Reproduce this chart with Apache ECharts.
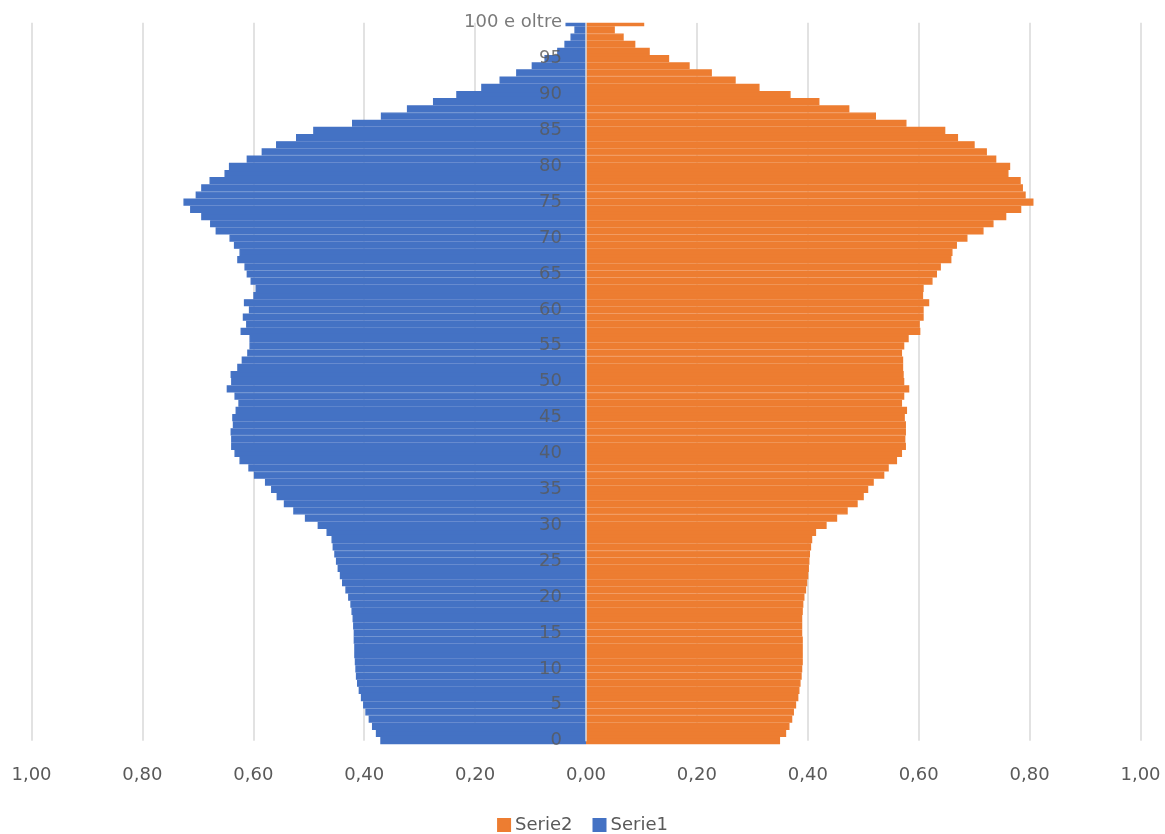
<!DOCTYPE html>
<html>
<head>
<meta charset="utf-8">
<script src="https://cdn.jsdelivr.net/npm/echarts@6/dist/echarts.min.js"></script>
<style>
html,body{margin:0;padding:0;background:#fff;}
#chart{width:1165px;height:834px;}
</style>
</head>
<body>
<div id="chart"></div>
<script>
// Age categories (0 ... 100 e oltre)
const ages = ["0","1","2","3","4","5","6","7","8","9",
"10","11","12","13","14","15","16","17","18","19",
"20","21","22","23","24","25","26","27","28","29",
"30","31","32","33","34","35","36","37","38","39",
"40","41","42","43","44","45","46","47","48","49",
"50","51","52","53","54","55","56","57","58","59",
"60","61","62","63","64","65","66","67","68","69",
"70","71","72","73","74","75","76","77","78","79",
"80","81","82","83","84","85","86","87","88","89",
"90","91","92","93","94","95","96","97","98","99",
"100 e oltre"];

// Tick labels shown on the age axis
const ageTicks = ["0","5","10","15","20","25","30","35","40","45","50",
"55","60","65","70","75","80","85","90","95","100 e oltre"];

// Serie1 (blue, drawn on the left) – magnitudes by age
const serie1 = [0.371,0.379,0.386,0.392,0.398,0.402,0.406,0.410,0.413,0.415,
0.416,0.417,0.418,0.418,0.419,0.419,0.420,0.421,0.423,0.425,
0.429,0.434,0.440,0.444,0.448,0.451,0.454,0.457,0.459,0.468,
0.484,0.507,0.528,0.545,0.558,0.568,0.579,0.599,0.609,0.625,
0.634,0.640,0.640,0.641,0.637,0.638,0.632,0.627,0.634,0.648,
0.640,0.641,0.629,0.621,0.611,0.607,0.607,0.623,0.613,0.619,
0.608,0.617,0.600,0.596,0.605,0.612,0.616,0.629,0.625,0.635,
0.643,0.668,0.678,0.694,0.714,0.726,0.704,0.694,0.679,0.652,
0.644,0.612,0.585,0.559,0.523,0.492,0.422,0.370,0.323,0.276,
0.234,0.189,0.156,0.126,0.098,0.075,0.052,0.039,0.028,0.021,
0.037];

// Serie2 (orange, drawn on the right)
const serie2 = [0.350,0.361,0.367,0.372,0.375,0.379,0.383,0.385,0.387,0.389,
0.390,0.391,0.391,0.391,0.391,0.390,0.390,0.390,0.391,0.392,
0.394,0.397,0.399,0.401,0.402,0.403,0.404,0.406,0.408,0.415,
0.434,0.453,0.472,0.490,0.501,0.509,0.519,0.538,0.546,0.561,
0.570,0.577,0.576,0.577,0.577,0.575,0.579,0.570,0.574,0.583,
0.574,0.573,0.572,0.572,0.570,0.574,0.582,0.603,0.602,0.609,
0.609,0.619,0.608,0.609,0.625,0.633,0.640,0.659,0.661,0.669,
0.688,0.717,0.735,0.758,0.785,0.807,0.793,0.788,0.784,0.762,
0.765,0.740,0.723,0.701,0.671,0.648,0.578,0.523,0.475,0.421,
0.369,0.313,0.270,0.227,0.187,0.150,0.115,0.089,0.068,0.052,
0.105];

const colors = {Serie1:"#4472C4", Serie2:"#ED7D31"};
const xMin = -1, xMax = 1, xStep = 0.2;

const FONT = "DejaVu Sans";
const TXT = "#595959";
const gridTop = 22.7;

const chart = echarts.init(document.getElementById('chart'), null, {renderer:'canvas'});
chart.setOption({
  animation:false,
  backgroundColor:'#ffffff',
  textStyle:{fontFamily:FONT},
  grid:{left:31.5, right:24.5, top:gridTop, bottom:93.3, containLabel:false, outerBoundsMode:'none'},
  legend:{
    data:["Serie2","Serie1"],
    bottom:-5, left:'center',
    icon:'rect', itemWidth:12, itemHeight:12, itemGap:20,
    textStyle:{color:TXT, fontSize:18, fontFamily:FONT}
  },
  xAxis:{
    type:'value', min:xMin, max:xMax, interval:xStep,
    axisLine:{show:false}, axisTick:{show:false},
    splitLine:{show:true, lineStyle:{color:'#d9d9d9', width:1.5}},
    axisLabel:{color:TXT, fontSize:18, fontFamily:FONT, margin:26,
      formatter:v=>Math.abs(v).toFixed(2).replace('.',',')}
  },
  yAxis:{
    type:'category', data:ages, boundaryGap:false, z:10,
    axisLine:{show:true, onZero:true, lineStyle:{color:'#d9dde4', width:1.5}},
    axisTick:{show:false},
    splitLine:{show:false},
    axisLabel:{show:false}
  },
  graphic:[{type:'rect', left:563.5, top:0, z:40, silent:true,
    shape:{width:200, height:gridTop}, style:{fill:'#ffffff'}}],
  series:[
    {name:"Serie1", type:'bar', data:serie1.map(v=>-v), barWidth:'100%', barGap:'-100%',
     clip:false, itemStyle:{color:colors.Serie1, borderColor:colors.Serie1, borderWidth:1.4}},
    {name:"Serie2", type:'bar', data:serie2, barWidth:'100%', barGap:'-100%',
     clip:false, itemStyle:{color:colors.Serie2, borderColor:colors.Serie2, borderWidth:1.4}},
    {name:"ageLabels", type:'scatter', symbolSize:0, z:100, silent:true,
     data:ageTicks.map(a=>[0,a]),
     label:{show:true, position:'left', distance:24, color:TXT, fontSize:18, fontFamily:FONT,
       formatter:p=>p.value[1]},
     tooltip:{show:false}}
  ]
});
</script>
</body>
</html>
